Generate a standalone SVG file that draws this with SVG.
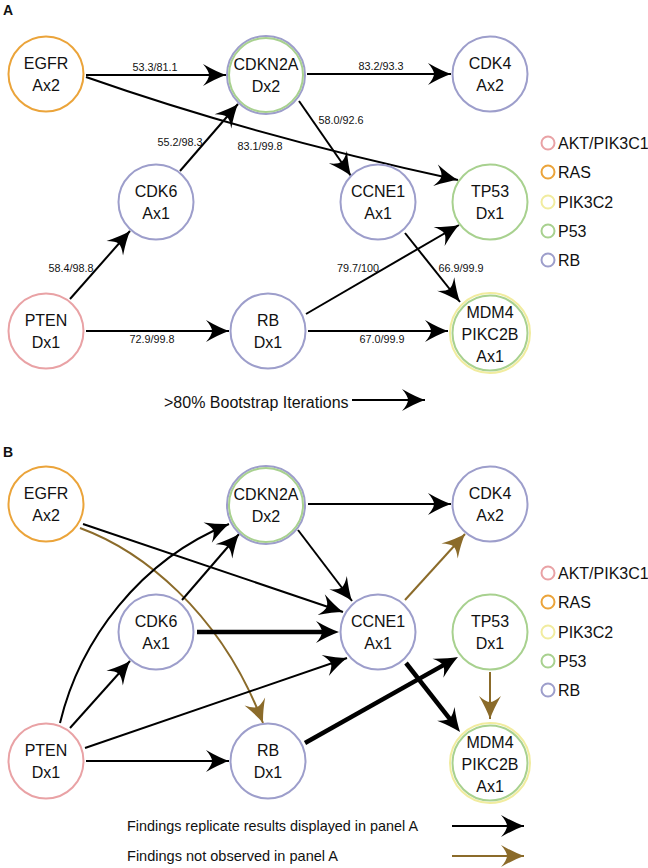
<svg xmlns="http://www.w3.org/2000/svg" width="648" height="868" viewBox="0 0 648 868">
<style>
text{font-family:"Liberation Sans",Arial,sans-serif;fill:#111}
.nt{font-size:16px;text-anchor:middle}
.lb{font-size:10.8px;text-anchor:middle}
.lg{font-size:16px}
.pl{font-size:14px;font-weight:bold}
.c{fill:#fff;stroke-width:2}
.or{stroke:#EBA43A}.pk{stroke:#E9A2A5}.pu{stroke:#9D9ECB}.gr{stroke:#A8D18F}.ye{stroke:#F1EC9F}
.e{fill:none;stroke:#000;stroke-width:2}
.b{stroke:#8B6B2A}
.k{stroke-width:4.5}
</style>
<defs>
<marker id="ah" viewBox="-24 -12 25 24" refX="0" refY="0" markerWidth="25" markerHeight="24" markerUnits="userSpaceOnUse" orient="auto" overflow="visible"><path d="M0,0 Q-10,-3.5 -23,-11 Q-17,-4 -17,0 Q-17,4 -23,11 Q-10,3.5 0,0 Z" fill="#000"/></marker>
<marker id="ahT" viewBox="-24 -12 25 24" refX="-8" refY="0" markerWidth="25" markerHeight="24" markerUnits="userSpaceOnUse" orient="auto" overflow="visible"><path d="M0,0 Q-10,-3.5 -23,-11 Q-17,-4 -17,0 Q-17,4 -23,11 Q-10,3.5 0,0 Z" fill="#000"/></marker>
<marker id="ahB" viewBox="-24 -12 25 24" refX="0" refY="0" markerWidth="25" markerHeight="24" markerUnits="userSpaceOnUse" orient="auto" overflow="visible"><path d="M0,0 Q-10,-3.5 -23,-11 Q-17,-4 -17,0 Q-17,4 -23,11 Q-10,3.5 0,0 Z" fill="#8B6B2A"/></marker>
</defs>

<text class="pl" x="3" y="15">A</text>
<text class="pl" x="3" y="457">B</text>

<!-- Panel A connectors -->
<g id="connectors-A">
<line class="e" x1="86" y1="75" x2="226" y2="75" marker-end="url(#ah)"/>
<path class="e" d="M86,77 Q254,136 458,180" marker-end="url(#ah)"/>
<line class="e" x1="180" y1="171" x2="238" y2="104" marker-end="url(#ah)"/>
<line class="e" x1="307" y1="74" x2="451" y2="74" marker-end="url(#ah)"/>
<line class="e" x1="299" y1="101" x2="351" y2="176" marker-end="url(#ah)"/>
<line class="e" x1="70" y1="299" x2="130" y2="231" marker-end="url(#ah)"/>
<line class="e" x1="86" y1="331" x2="229" y2="331" marker-end="url(#ah)"/>
<line class="e" x1="306" y1="314" x2="459" y2="225" marker-end="url(#ah)"/>
<line class="e" x1="405" y1="233" x2="460" y2="302" marker-end="url(#ah)"/>
<line class="e" x1="308" y1="331" x2="448" y2="331" marker-end="url(#ah)"/>
<text class="lb" x="155" y="71">53.3/81.1</text>
<text class="lb" x="260" y="150">83.1/99.8</text>
<text class="lb" x="180" y="146">55.2/98.3</text>
<text class="lb" x="381" y="70">83.2/93.3</text>
<text class="lb" x="341" y="124">58.0/92.6</text>
<text class="lb" x="71" y="272">58.4/98.8</text>
<text class="lb" x="152" y="343">72.9/99.8</text>
<text class="lb" x="358" y="272">79.7/100</text>
<text class="lb" x="461" y="272">66.9/99.9</text>
<text class="lb" x="382" y="343">67.0/99.9</text>
</g>

<!-- Panel A nodes -->
<g id="A-EGFR"><circle class="c or" cx="46" cy="74" r="37.5"/><text class="nt" x="46" y="69">EGFR</text><text class="nt" x="46" y="91">Ax2</text></g>
<g id="A-CDKN2A"><circle class="c pu" cx="266" cy="75" r="39"/><circle fill="none" class="gr" stroke-width="2" cx="266" cy="75" r="37"/><text class="nt" x="266" y="70">CDKN2A</text><text class="nt" x="266" y="92">Dx2</text></g>
<g id="A-CDK4"><circle class="c pu" cx="490" cy="74" r="37.5"/><text class="nt" x="490" y="69">CDK4</text><text class="nt" x="490" y="91">Ax2</text></g>
<g id="A-CDK6"><circle class="c pu" cx="156" cy="202" r="37.5"/><text class="nt" x="156" y="197">CDK6</text><text class="nt" x="156" y="219">Ax1</text></g>
<g id="A-CCNE1"><circle class="c pu" cx="378" cy="202" r="37.5"/><text class="nt" x="378" y="197">CCNE1</text><text class="nt" x="378" y="219">Ax1</text></g>
<g id="A-TP53"><circle class="c gr" cx="490" cy="202" r="37.5"/><text class="nt" x="490" y="197">TP53</text><text class="nt" x="490" y="219">Dx1</text></g>
<g id="A-PTEN"><circle class="c pk" cx="46" cy="331" r="37.5"/><text class="nt" x="46" y="326">PTEN</text><text class="nt" x="46" y="348">Dx1</text></g>
<g id="A-RB"><circle class="c pu" cx="268" cy="331" r="37.5"/><text class="nt" x="268" y="326">RB</text><text class="nt" x="268" y="348">Dx1</text></g>
<g id="A-MDM4"><circle class="c ye" stroke-width="3.5" cx="490" cy="333" r="40"/><circle fill="none" class="gr" stroke-width="2" cx="490" cy="333" r="37.5"/><text class="nt" x="490" y="318">MDM4</text><text class="nt" x="490" y="340">PIKC2B</text><text class="nt" x="490" y="362">Ax1</text></g>

<!-- Panel A legend -->
<g id="legend-A">
<circle class="c pk" cx="548" cy="143" r="6.5"/><text class="lg" x="558" y="149">AKT/PIK3C1</text>
<circle class="c or" cx="548" cy="172" r="6.5"/><text class="lg" x="558" y="178">RAS</text>
<circle class="c ye" cx="548" cy="202" r="6.5"/><text class="lg" x="558" y="208">PIK3C2</text>
<circle class="c gr" cx="548" cy="231" r="6.5"/><text class="lg" x="558" y="237">P53</text>
<circle class="c pu" cx="548" cy="260" r="6.5"/><text class="lg" x="558" y="266">RB</text>
<text class="lg" x="164" y="408">&gt;80% Bootstrap Iterations</text>
<line class="e" x1="352" y1="400" x2="425" y2="400" marker-end="url(#ah)"/>
</g>

<!-- Panel B connectors -->
<g id="connectors-B">
<line class="e" x1="308" y1="504" x2="451" y2="504" marker-end="url(#ah)"/>
<line class="e" x1="298" y1="530" x2="352" y2="601" marker-end="url(#ah)"/>
<line class="e" x1="83" y1="524" x2="343" y2="612" marker-end="url(#ah)"/>
<path class="e b" d="M80,528 C140,550 220,610 263,723" marker-end="url(#ahB)"/>
<path class="e" d="M60,723 C80,640 140,560 229,524" marker-end="url(#ah)"/>
<line class="e" x1="182" y1="600" x2="239" y2="534" marker-end="url(#ah)"/>
<line class="e" x1="70" y1="728" x2="130" y2="661" marker-end="url(#ah)"/>
<line class="e" x1="85" y1="748" x2="347" y2="658" marker-end="url(#ah)"/>
<line class="e" x1="86" y1="761" x2="229" y2="761" marker-end="url(#ah)"/>
<line class="e k" x1="197" y1="632" x2="331" y2="632" marker-end="url(#ahT)"/>
<line class="e b" x1="405" y1="600" x2="465" y2="534" marker-end="url(#ahB)"/>
<line class="e k" x1="305" y1="743" x2="451" y2="660.9" marker-end="url(#ahT)"/>
<line class="e k" x1="406" y1="663" x2="455.1" y2="725.7" marker-end="url(#ahT)"/>
<line class="e b" x1="490" y1="672" x2="490" y2="719" marker-end="url(#ahB)"/>
</g>

<!-- Panel B nodes -->
<g id="B-EGFR"><circle class="c or" cx="46" cy="504" r="37.5"/><text class="nt" x="46" y="499">EGFR</text><text class="nt" x="46" y="521">Ax2</text></g>
<g id="B-CDKN2A"><circle class="c pu" cx="266" cy="505" r="39"/><circle fill="none" class="gr" stroke-width="2" cx="266" cy="505" r="37"/><text class="nt" x="266" y="500">CDKN2A</text><text class="nt" x="266" y="522">Dx2</text></g>
<g id="B-CDK4"><circle class="c pu" cx="490" cy="504" r="37.5"/><text class="nt" x="490" y="499">CDK4</text><text class="nt" x="490" y="521">Ax2</text></g>
<g id="B-CDK6"><circle class="c pu" cx="156" cy="632" r="37.5"/><text class="nt" x="156" y="627">CDK6</text><text class="nt" x="156" y="649">Ax1</text></g>
<g id="B-CCNE1"><circle class="c pu" cx="378" cy="632" r="37.5"/><text class="nt" x="378" y="627">CCNE1</text><text class="nt" x="378" y="649">Ax1</text></g>
<g id="B-TP53"><circle class="c gr" cx="490" cy="632" r="37.5"/><text class="nt" x="490" y="627">TP53</text><text class="nt" x="490" y="649">Dx1</text></g>
<g id="B-PTEN"><circle class="c pk" cx="46" cy="761" r="37.5"/><text class="nt" x="46" y="756">PTEN</text><text class="nt" x="46" y="778">Dx1</text></g>
<g id="B-RB"><circle class="c pu" cx="268" cy="761" r="37.5"/><text class="nt" x="268" y="756">RB</text><text class="nt" x="268" y="778">Dx1</text></g>
<g id="B-MDM4"><circle class="c ye" stroke-width="3.5" cx="490" cy="763" r="40"/><circle fill="none" class="gr" stroke-width="2" cx="490" cy="763" r="37.5"/><text class="nt" x="490" y="748">MDM4</text><text class="nt" x="490" y="770">PIKC2B</text><text class="nt" x="490" y="792">Ax1</text></g>

<!-- Panel B legend -->
<g id="legend-B">
<circle class="c pk" cx="548" cy="573" r="6.5"/><text class="lg" x="558" y="579">AKT/PIK3C1</text>
<circle class="c or" cx="548" cy="602" r="6.5"/><text class="lg" x="558" y="608">RAS</text>
<circle class="c ye" cx="548" cy="632" r="6.5"/><text class="lg" x="558" y="638">PIK3C2</text>
<circle class="c gr" cx="548" cy="661" r="6.5"/><text class="lg" x="558" y="667">P53</text>
<circle class="c pu" cx="548" cy="690" r="6.5"/><text class="lg" x="558" y="696">RB</text>
<text x="127" y="831" font-size="14.5" textLength="291" lengthAdjust="spacingAndGlyphs">Findings replicate results displayed in panel A</text>
<text x="127" y="861" font-size="14.5" textLength="211" lengthAdjust="spacingAndGlyphs">Findings not observed in panel A</text>
<line class="e" x1="452" y1="826" x2="524" y2="826" marker-end="url(#ah)"/>
<line class="e b" x1="452" y1="856" x2="524" y2="856" marker-end="url(#ahB)"/>
</g>
</svg>
